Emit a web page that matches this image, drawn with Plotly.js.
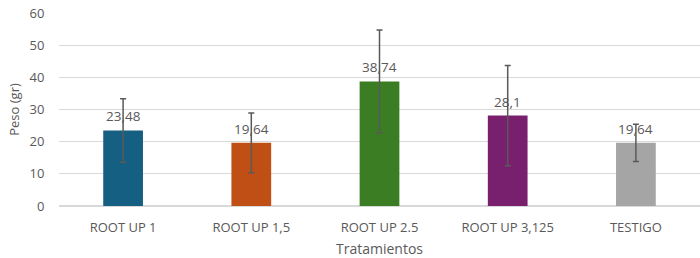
<!DOCTYPE html>
<html>
<head>
<meta charset="utf-8">
<script src="https://cdn.plot.ly/plotly-3.0.1.min.js"></script>
<style>html,body{margin:0;padding:0;background:#fff;}#chart{width:700px;height:258px;}</style>
</head>
<body>
<div id="chart"></div>
<script>
const categories = ["ROOT UP 1", "ROOT UP 1,5", "ROOT UP 2.5", "ROOT UP 3,125", "TESTIGO"];
const values = [23.48, 19.64, 38.74, 28.1, 19.64];
const errors = [9.9, 9.3, 16.0, 15.6, 5.8];
const labels = ["23,48", "19,64", "38,74", "28,1", "19,64"];
const colors = ["#156082", "#C04F15", "#3B7D23", "#78206E", "#A5A5A5"];
const yTicks = [0, 10, 20, 30, 40, 50, 60];

const font = "Open Sans, Liberation Sans, sans-serif";
const grey = "#595959";

const trace = {
  type: "bar",
  x: categories,
  y: values,
  marker: {color: colors, line: {width: 0}},
  error_y: {type: "data", array: errors, visible: true, color: grey, thickness: 1.5, width: 3},
  hoverinfo: "none"
};

const annotations = categories.map((c, i) => ({
  x: c, y: values[i], xref: "x", yref: "y",
  text: labels[i], showarrow: false, yshift: 14, yanchor: "middle",
  font: {family: font, size: 13.5, color: grey}
}));

const layout = {
  width: 700, height: 258,
  margin: {l: 59, r: 0, t: 13, b: 52},
  paper_bgcolor: "#fff", plot_bgcolor: "#fff",
  bargap: 0.69,
  showlegend: false,
  xaxis: {
    type: "category",
    tickfont: {family: font, size: 13, color: grey},
    showline: false, ticks: "outside", ticklen: 9, tickcolor: "rgba(0,0,0,0)",
    title: {text: "Tratamientos", font: {family: font, size: 14, color: grey}, standoff: 9}
  },
  yaxis: {
    range: [0, 60], tickvals: yTicks, ticktext: yTicks.map(String),
    tickfont: {family: font, size: 13, color: grey},
    gridcolor: "#D9D9D9", gridwidth: 1.3,
    zeroline: true, zerolinecolor: "#D9D9D9", zerolinewidth: 1.3,
    showline: false, ticks: "outside", ticklen: 11, tickcolor: "rgba(0,0,0,0)",
    title: {text: "Peso (gr)", font: {family: font, size: 13, color: grey}, standoff: 6}
  },
  annotations: annotations
};

Plotly.newPlot("chart", [trace], layout, {displayModeBar: false, staticPlot: true});
</script>
</body>
</html>
